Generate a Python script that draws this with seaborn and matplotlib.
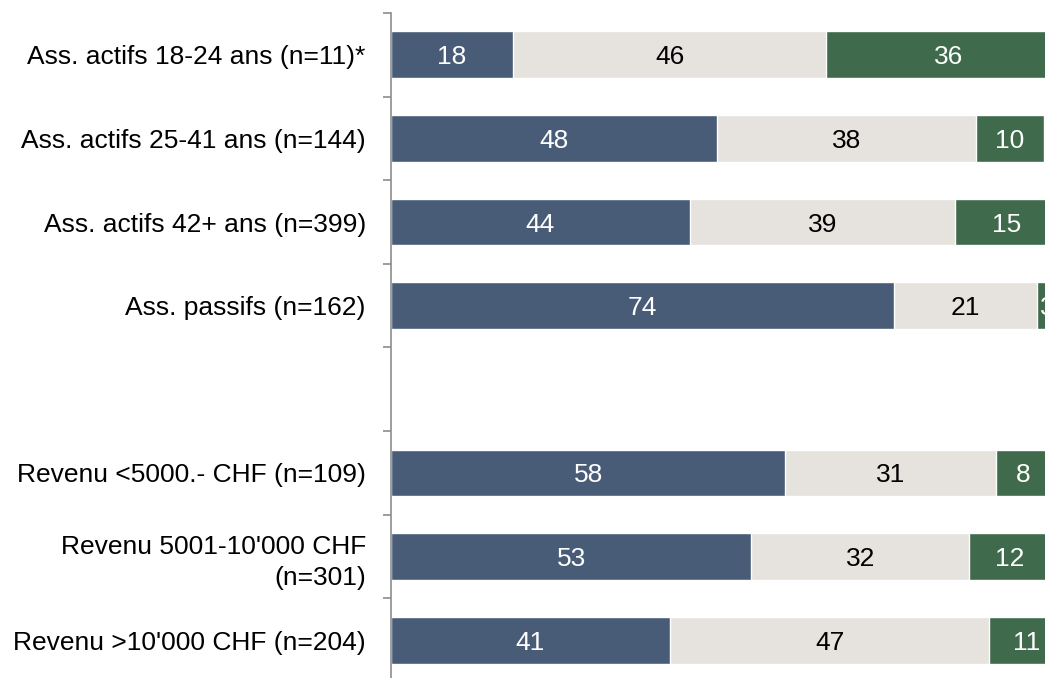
import matplotlib
matplotlib.use('Agg')
import matplotlib.pyplot as plt
import numpy as np
import pandas as pd
import seaborn as sns

categories = [
    "Ass. actifs 18-24 ans (n=11)*",
    "Ass. actifs 25-41 ans (n=144)",
    "Ass. actifs 42+ ans (n=399)",
    "Ass. passifs (n=162)",
    "Revenu <5000.- CHF (n=109)",
    "Revenu 5001-10'000 CHF\n(n=301)",
    "Revenu >10'000 CHF (n=204)",
]
order = categories[:4] + [" "] + categories[4:]
bleu_vals = [18, 48, 44, 74, 58, 53, 41]
gris_vals = [46, 38, 39, 21, 31, 32, 47]
vert_vals = [36, 10, 15, 3, 8, 12, 11]

BLEU = '#485B77'
GRIS = '#E6E3DF'
VERT = '#3F6A4B'

df = pd.DataFrame({'cat': categories, 'bleu': bleu_vals, 'gris': gris_vals, 'vert': vert_vals})
df['c1'] = df['bleu']
df['c2'] = df['bleu'] + df['gris']
df['c3'] = df['c2'] + df['vert']

sns.set_style('white')
plt.rcParams['font.family'] = ['Liberation Sans', 'DejaVu Sans']

fig = plt.figure(figsize=(10.45, 6.78), dpi=100)
ax = fig.add_axes([0.374, -0.006, 0.651, 0.987])

w = 0.56
sns.barplot(data=df, x='c3', y='cat', order=order, color=VERT, width=w, ax=ax, saturation=1, orient='h')
sns.barplot(data=df, x='c2', y='cat', order=order, color=GRIS, width=w, ax=ax, saturation=1, orient='h')
sns.barplot(data=df, x='c1', y='cat', order=order, color=BLEU, width=w, ax=ax, saturation=1, orient='h')

fs = 19
for i, cat in enumerate(order):
    if cat not in categories:
        continue
    r = df[df['cat'] == cat].iloc[0]
    ax.text(r['bleu'] / 2, i, str(r['bleu']), ha='center', va='center_baseline', color='white', fontsize=fs)
    ax.text(r['bleu'] + r['gris'] / 2, i, str(r['gris']), ha='center', va='center_baseline', color='black', fontsize=fs)
    ax.text(r['c2'] + r['vert'] / 2, i, str(r['vert']), ha='center', va='center_baseline', color='white', fontsize=fs, clip_on=False)

ax.set_xlim(0, 100)
ax.set_ylim(7.5, -0.5)
ax.set_xlabel('')
ax.set_ylabel('')
ax.set_xticks([])
for s in ['top', 'right', 'bottom']:
    ax.spines[s].set_visible(False)
ax.spines['left'].set_color('#8C8C8C')
ax.spines['left'].set_linewidth(1.2)
ax.set_yticks(np.arange(-0.5, 7.5, 1.0), minor=True)
ax.tick_params(axis='y', which='major', length=0, pad=18, labelsize=fs, labelcolor='black')
ax.tick_params(axis='y', which='minor', length=6, width=1.2, color='#8C8C8C', left=True)
for lbl in ax.get_yticklabels():
    lbl.set_linespacing(1.35)

fig.savefig('out.png', dpi=100)
